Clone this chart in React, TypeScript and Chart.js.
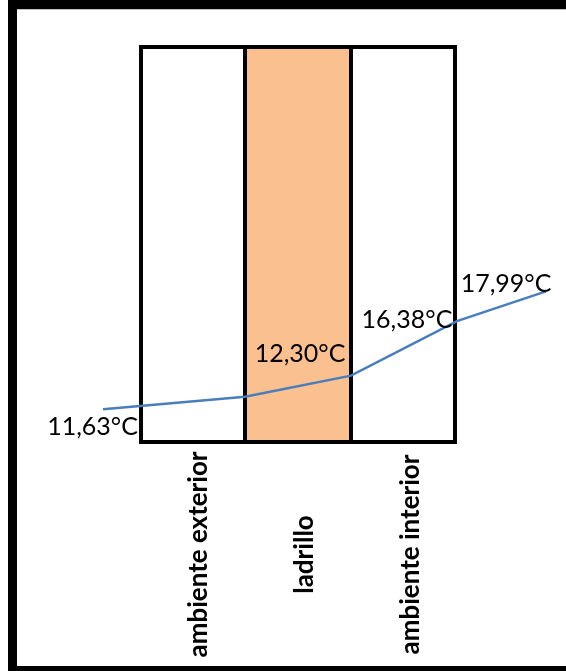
import React, { useEffect, useRef } from 'react';
import { Chart, registerables } from 'chart.js';

Chart.register(...registerables);

// ---- data ----
const categories = ['ambiente exterior', 'ladrillo', 'ambiente interior'];
const layerPositions = [1, 2, 3];
const layerFill = [1, 1, 1];
const layerColors = ['#FFFFFF', '#FAC090', '#FFFFFF'];

const profilePositions = [0.16, 1.5, 2.5, 3.5, 4.34];
const profileTemps = [11.63, 12.3, 13.44, 16.38, 17.99];
const profileShowLabel = [true, true, false, true, true];

// ---- styles ----
const LABEL_FONT = '25px Lato, "Liberation Sans", sans-serif';
const CAT_FONT = 'bold 26px Lato, "Liberation Sans", sans-serif';
const LABEL_OFFSETS: [number, number][] = [
  [-10.5, 18],
  [55, -42.5],
  [0, 0],
  [-50, -1.5],
  [-40, -7],
];

const fmt = (v: number) => v.toFixed(2).replace('.', ',') + '°C';

const annotPlugin = {
  id: 'annot',
  afterDatasetsDraw(chart: any) {
    const ctx = chart.ctx as CanvasRenderingContext2D;
    const meta = chart.getDatasetMeta(0);
    ctx.save();
    ctx.fillStyle = '#000';
    ctx.font = LABEL_FONT;
    ctx.textAlign = 'center';
    ctx.textBaseline = 'middle';
    meta.data.forEach((pt: any, i: number) => {
      if (!profileShowLabel[i]) return;
      const [dx, dy] = LABEL_OFFSETS[i];
      ctx.fillText(fmt(profileTemps[i]), pt.x + dx, pt.y + dy);
    });
    const xs = chart.scales.x;
    const cy = chart.chartArea.bottom + 110.5;
    ctx.font = CAT_FONT;
    ctx.textBaseline = 'alphabetic';
    categories.forEach((c, i) => {
      const px = xs.getPixelForValue(layerPositions[i]);
      ctx.save();
      ctx.translate(px + 15, cy);
      ctx.rotate(-Math.PI / 2);
      ctx.fillText(c, 0, 0);
      ctx.restore();
    });
    ctx.restore();
  },
};

export default function App() {
  const ref = useRef<HTMLCanvasElement | null>(null);

  useEffect(() => {
    if (!ref.current) return;
    const chart = new Chart(ref.current, {
      type: 'bar',
      data: {
        datasets: [
          {
            type: 'line',
            label: 'Temperatura',
            data: profilePositions.map((x, i) => ({ x, y: profileTemps[i] })),
            xAxisID: 'x',
            yAxisID: 'y',
            borderColor: '#4A7EBB',
            borderWidth: 2.5,
            pointRadius: 0,
            tension: 0,
            fill: false,
            clip: false,
            order: 0,
          } as any,
          {
            type: 'bar',
            label: 'Capas',
            data: layerPositions.map((x, i) => ({ x, y: layerFill[i] })),
            xAxisID: 'x',
            yAxisID: 'yLayer',
            backgroundColor: layerColors,
            borderColor: '#000000',
            borderWidth: (c: any) => ({
              top: 4,
              bottom: 4,
              left: c.dataIndex === 0 ? 4 : 2,
              right: c.dataIndex === categories.length - 1 ? 4 : 2,
            }),
            borderSkipped: false,
            barPercentage: 1,
            categoryPercentage: 1,
            inflateAmount: 0,
            order: 1,
          } as any,
        ],
      },
      options: {
        animation: false,
        responsive: false,
        layout: { padding: { left: 86, right: 20, top: 35, bottom: 222 } },
        plugins: { legend: { display: false }, tooltip: { enabled: false } },
        scales: {
          x: {
            type: 'linear',
            min: profilePositions[0],
            max: profilePositions[profilePositions.length - 1],
            offset: false,
            display: false,
            afterBuildTicks: (s: any) => {
              s.ticks = layerPositions.map((v) => ({ value: v }));
            },
          },
          y: { type: 'linear', min: 9.75, max: 31.29, display: false },
          yLayer: { type: 'linear', min: 0, max: 1, display: false },
        },
      } as any,
      plugins: [annotPlugin],
    });
    return () => chart.destroy();
  }, []);

  return (
    <div
      style={{
        position: 'absolute',
        left: 8,
        top: 0,
        width: 558,
        height: 671,
        boxSizing: 'border-box',
        borderTop: '9px solid #000',
        borderLeft: '9px solid #000',
        borderBottom: '5px solid #000',
        background: '#fff',
      }}
    >
      <div style={{ height: 1, background: '#C0C0C0' }} />
      <canvas ref={ref} width={549} height={656} style={{ display: 'block' }} />
    </div>
  );
}
